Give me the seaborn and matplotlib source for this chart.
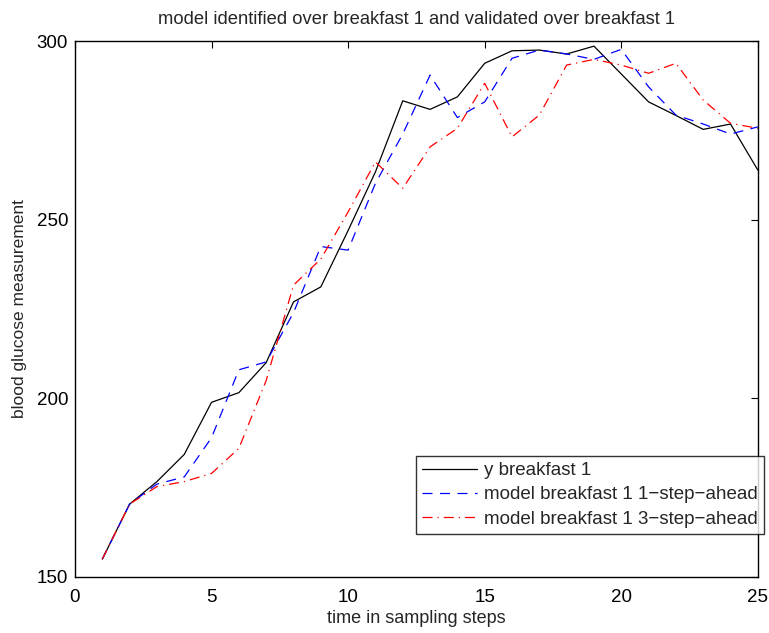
import matplotlib
matplotlib.use("Agg")
import matplotlib.pyplot as plt
import seaborn as sns

steps = list(range(1, 26))
y_meas = [155.0, 170.4, 176.7, 184.3, 198.9, 201.6, 210.0, 227.0, 231.2, 247.0,
          263.4, 283.3, 280.9, 284.4, 293.8, 297.3, 297.5, 296.4, 298.6, 290.8,
          283.0, 279.2, 275.3, 276.8, 263.9]
pred_1 = [155.0, 170.4, 176.0, 178.0, 189.0, 208.0, 210.2, 224.0, 242.5, 241.5,
          260.2, 274.0, 290.5, 278.6, 283.0, 295.2, 297.5, 296.4, 294.9, 297.7,
          287.2, 279.3, 276.8, 274.0, 276.0]
pred_3 = [155.0, 170.4, 175.3, 176.7, 179.0, 186.0, 205.0, 231.7, 239.0, 252.2,
          266.2, 258.8, 270.4, 275.6, 288.2, 273.2, 279.3, 293.3, 294.9, 293.3,
          291.0, 293.8, 283.5, 277.0, 275.6]

labels = ["y breakfast 1",
          "model breakfast 1 1\u2212step\u2212ahead",
          "model breakfast 1 3\u2212step\u2212ahead"]

sns.set_style("white")
plt.rcParams["font.family"] = ["Liberation Sans", "DejaVu Sans"]
plt.rcParams["font.size"] = 13

fig = plt.figure(figsize=(7.69, 6.33), dpi=100)
ax = fig.add_axes([0.0975, 0.0885, 0.888, 0.8465])

sns.lineplot(x=steps, y=y_meas, ax=ax, color="black", linewidth=0.9,
             label=labels[0])
sns.lineplot(x=steps, y=pred_1, ax=ax, color="blue", linewidth=0.9,
             label=labels[1])
sns.lineplot(x=steps, y=pred_3, ax=ax, color="red", linewidth=0.9,
             label=labels[2])
ax.lines[1].set_dashes([8, 6])
ax.lines[2].set_dashes([8, 4, 1, 4])

ax.set_xlim(0, 25)
ax.set_ylim(150, 300)
ax.set_xticks([0, 5, 10, 15, 20, 25])
ax.set_yticks([150, 200, 250, 300])
ax.tick_params(direction="in", length=5, width=0.8, top=True, right=True,
               labelsize=13.5, colors="black")
ax.tick_params(axis="x", pad=8.5)
ax.tick_params(axis="y", pad=5)
for s in ax.spines.values():
    s.set_visible(True)
    s.set_color("black")
    s.set_linewidth(1.0)

ax.set_title("model identified over breakfast 1 and validated over breakfast 1",
             fontsize=13.2, pad=12)
ax.set_xlabel("time in sampling steps", fontsize=13, labelpad=3)
ax.set_ylabel("blood glucose measurement", fontsize=12.5, labelpad=7)

leg = ax.legend(loc="upper left", bbox_to_anchor=(0.4993, 0.2257),
                borderaxespad=0, frameon=True, fancybox=False, fontsize=13.5,
                handlelength=2.95, borderpad=0.32, labelspacing=0.38,
                handletextpad=0.35)
leg.get_frame().set_edgecolor("black")
leg.get_frame().set_linewidth(1.0)
leg.set_clip_on(False)
for h in leg.get_lines():
    h.set_linewidth(0.9)

fig.savefig("out.png", dpi=100)
